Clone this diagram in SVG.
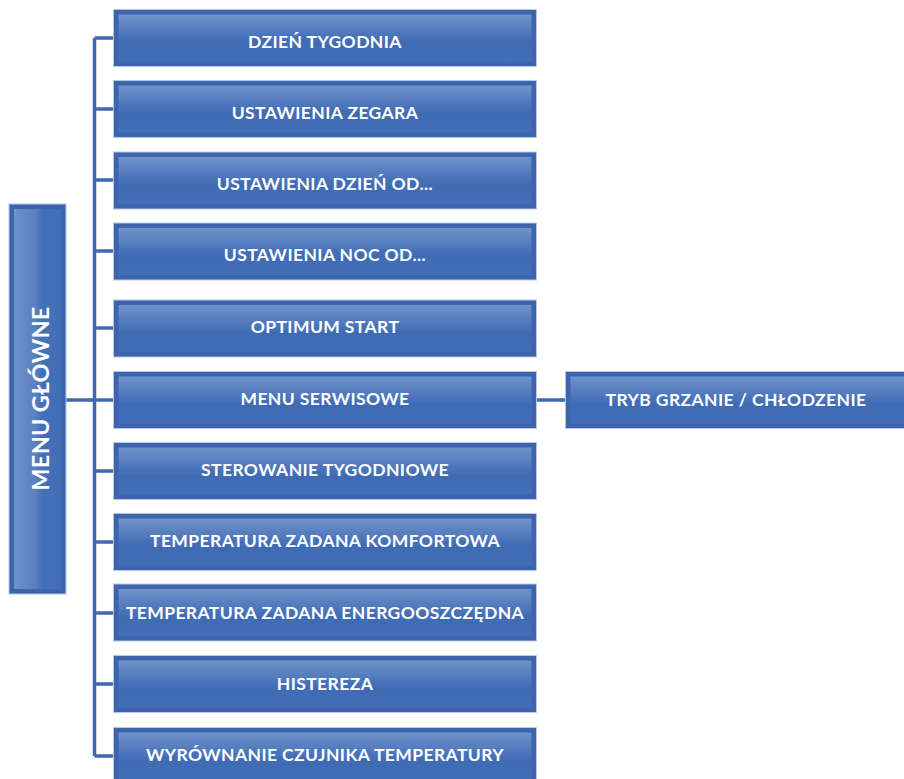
<svg xmlns="http://www.w3.org/2000/svg" width="904" height="779" viewBox="0 0 904 779">
<defs>
<linearGradient id="gv" x1="0" y1="0" x2="0" y2="1">
<stop offset="0" stop-color="#7192ca"/>
<stop offset="0.45" stop-color="#4a74ba"/>
<stop offset="0.6" stop-color="#3f6bb5"/>
<stop offset="1" stop-color="#436fb8"/>
</linearGradient>
<linearGradient id="gh" x1="0" y1="0" x2="1" y2="0">
<stop offset="0" stop-color="#7192ca"/>
<stop offset="0.45" stop-color="#5a80c0"/>
<stop offset="0.6" stop-color="#4270b8"/>
<stop offset="1" stop-color="#436fb8"/>
</linearGradient>
<style>
.ob{fill:#3d65ae;stroke:#b7c8e6;stroke-width:1}
.ib{fill:url(#gv)}
.ih{fill:url(#gh)}
.t{font-family:Lato,"Open Sans","Liberation Sans",sans-serif;font-weight:bold;font-size:17.5px;letter-spacing:0.4px;fill:#ffffff;text-anchor:middle}
.c{stroke:#3e68b1;stroke-width:3.5;fill:none}
</style>
</defs>
<g id="connectors">
<path class="c" d="M94.5 38 V756"/>
<path class="c" d="M66 400 H113"/>
<path class="c" d="M94.5 38 H113 M94.5 109 H113 M94.5 180 H113 M94.5 251 H113 M94.5 328 H113 M94.5 471 H113 M94.5 542 H113 M94.5 613 H113 M94.5 684 H113 M94.5 756 H113"/>
<path class="c" d="M537 400 H565"/>
</g>
<g id="main">
<rect class="ob" x="9" y="204" width="57" height="390"/>
<rect class="ih" x="14" y="209" width="47" height="380"/>
<text class="t" transform="translate(48.5 398.5) rotate(-90)" style="font-size:23.5px;letter-spacing:0.3px">MENU GŁÓWNE</text>
</g>
<g id="n1"><rect class="ob" x="113.5" y="9.5" width="423" height="57"/><rect class="ib" x="118.5" y="14.5" width="413" height="47"/><text class="t" x="325" y="48.3">DZIEŃ TYGODNIA</text></g>
<g id="n2"><rect class="ob" x="113.5" y="80.5" width="423" height="57"/><rect class="ib" x="118.5" y="85.5" width="413" height="47"/><text class="t" x="325" y="119">USTAWIENIA ZEGARA</text></g>
<g id="n3"><rect class="ob" x="113.5" y="152" width="423" height="57"/><rect class="ib" x="118.5" y="157" width="413" height="47"/><text class="t" x="325" y="190">USTAWIENIA DZIEŃ OD...</text></g>
<g id="n4"><rect class="ob" x="113.5" y="223" width="423" height="57"/><rect class="ib" x="118.5" y="228" width="413" height="47"/><text class="t" x="325" y="261">USTAWIENIA NOC OD...</text></g>
<g id="n5"><rect class="ob" x="113.5" y="300" width="423" height="57"/><rect class="ib" x="118.5" y="305" width="413" height="47"/><text class="t" x="325" y="333">OPTIMUM START</text></g>
<g id="n6"><rect class="ob" x="113.5" y="371.5" width="423" height="57"/><rect class="ib" x="118.5" y="376.5" width="413" height="47"/><text class="t" x="325" y="405">MENU SERWISOWE</text></g>
<g id="n7"><rect class="ob" x="113.5" y="442.5" width="423" height="57"/><rect class="ib" x="118.5" y="447.5" width="413" height="47"/><text class="t" x="325" y="476">STEROWANIE TYGODNIOWE</text></g>
<g id="n8"><rect class="ob" x="113.5" y="513.5" width="423" height="57"/><rect class="ib" x="118.5" y="518.5" width="413" height="47"/><text class="t" x="325" y="547">TEMPERATURA ZADANA KOMFORTOWA</text></g>
<g id="n9"><rect class="ob" x="113.5" y="584" width="423" height="57"/><rect class="ib" x="118.5" y="589" width="413" height="47"/><text class="t" x="325" y="619">TEMPERATURA ZADANA ENERGOOSZCZĘDNA</text></g>
<g id="n10"><rect class="ob" x="113.5" y="655.5" width="423" height="57"/><rect class="ib" x="118.5" y="660.5" width="413" height="47"/><text class="t" x="325" y="690">HISTEREZA</text></g>
<g id="n11"><rect class="ob" x="113.5" y="727.5" width="423" height="57"/><rect class="ib" x="118.5" y="732.5" width="413" height="47"/><text class="t" x="325" y="761">WYRÓWNANIE CZUJNIKA TEMPERATURY</text></g>
<g id="n12"><rect class="ob" x="565.5" y="371.5" width="345" height="57"/><rect class="ib" x="570.5" y="376.5" width="335" height="47"/><text class="t" x="736" y="406">TRYB GRZANIE / CHŁODZENIE</text></g>
</svg>
